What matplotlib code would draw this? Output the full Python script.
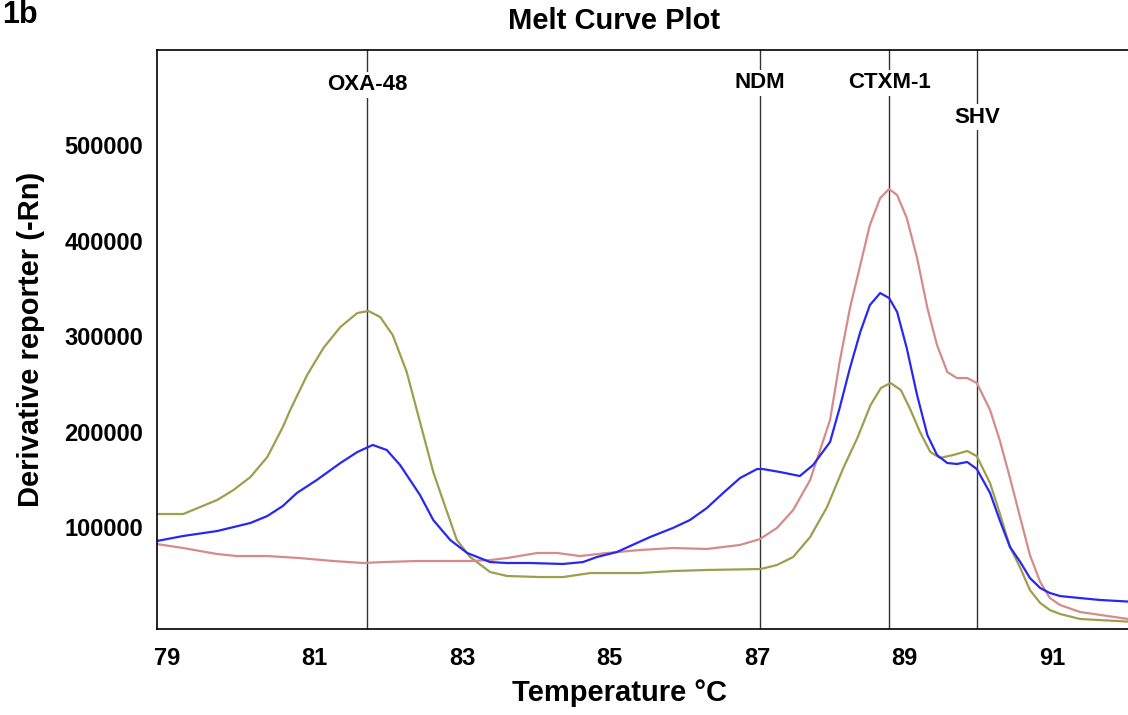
import numpy as np
import matplotlib
matplotlib.use('Agg')
import matplotlib.pyplot as plt

plt.rcParams['font.family'] = ['Liberation Sans', 'DejaVu Sans']
plt.rcParams['font.weight'] = 'bold'

# Derivative melt curves (temperature in C, -Rn)
olive_temp = [78.86, 79.22, 79.68, 79.90, 80.13, 80.36, 80.57, 80.67, 80.90, 81.12,
              81.35, 81.58, 81.73, 81.89, 82.06, 82.25, 82.43, 82.61, 82.74, 82.93,
              83.11, 83.38, 83.61, 84.06, 84.37, 84.74, 85.41, 85.86, 86.32, 87.05,
              87.27, 87.49, 87.72, 87.95, 88.17, 88.36, 88.54, 88.68, 88.81, 88.95,
              89.07, 89.21, 89.35, 89.48, 89.66, 89.85, 89.98, 90.16, 90.29, 90.43,
              90.57, 90.70, 90.84, 90.97, 91.11, 91.38, 92.13]
olive_val = [113600, 113600, 128300, 138700, 152300, 173300, 204700, 222500, 259200, 287400,
             309400, 324100, 326200, 319900, 301000, 262300, 209900, 157600, 128300, 86400,
             68600, 52900, 48700, 47600, 47600, 51800, 51800, 53900, 55000, 56000,
             60200, 68600, 89500, 121000, 161800, 193200, 227800, 245600, 250800, 243400,
             224600, 199400, 178500, 172300, 175400, 179600, 174200, 145900, 114700, 79100,
             57100, 34000, 20400, 13100, 8900, 3700, 500]

pink_temp = [78.86, 79.22, 79.68, 79.95, 80.36, 80.80, 81.25, 81.66, 81.93, 82.39,
             83.11, 83.38, 83.61, 84.02, 84.29, 84.60, 84.97, 85.41, 85.86, 86.32,
             86.77, 87.04, 87.27, 87.49, 87.72, 87.99, 88.12, 88.26, 88.40, 88.53,
             88.67, 88.79, 88.90, 89.03, 89.17, 89.31, 89.44, 89.58, 89.71, 89.85,
             89.98, 90.16, 90.29, 90.43, 90.57, 90.70, 90.84, 90.97, 91.11, 91.38,
             92.03, 92.13]
pink_val = [82200, 78000, 71700, 69600, 69600, 67500, 64400, 62300, 63300, 64400,
            64400, 65400, 67500, 72800, 72800, 69600, 72800, 75900, 78000, 77000,
            81200, 87400, 99000, 117800, 149200, 212000, 272800, 329300, 374300, 416200,
            444400, 453900, 447600, 423600, 381700, 329300, 290600, 262300, 256000, 256000,
            250800, 222500, 191100, 151300, 109400, 70700, 42400, 25700, 18300, 11000,
            3700, 3700]

blue_temp = [78.86, 79.22, 79.68, 80.13, 80.36, 80.57, 80.76, 81.03, 81.35, 81.58,
             81.73, 81.79, 81.98, 82.16, 82.34, 82.43, 82.61, 82.84, 83.07, 83.38,
             83.61, 83.92, 84.37, 84.64, 84.83, 85.10, 85.28, 85.55, 85.86, 86.09,
             86.32, 86.54, 86.77, 87.00, 87.08, 87.31, 87.58, 87.76, 87.99, 88.12,
             88.26, 88.40, 88.53, 88.67, 88.79, 88.90, 89.03, 89.17, 89.31, 89.44,
             89.58, 89.71, 89.85, 89.98, 90.16, 90.29, 90.43, 90.57, 90.70, 90.84,
             90.97, 91.11, 91.38, 91.65, 92.13]
blue_val = [85300, 90600, 95800, 104200, 111500, 122000, 135600, 149200, 167000, 178500,
            183800, 185900, 180600, 164900, 144000, 133500, 107300, 86400, 72800, 63300,
            62300, 62300, 61300, 63300, 68600, 73800, 80100, 89500, 99000, 107300,
            119900, 135600, 151300, 160700, 160700, 157600, 153400, 164900, 189000, 224600,
            266500, 304200, 332400, 345000, 339800, 325100, 287400, 238200, 196300, 175400,
            167000, 166000, 168100, 160700, 135600, 107300, 79100, 63300, 46600, 36100,
            30900, 27700, 25600, 23600, 21500]

# Melt temperature markers
marker_names = ['OXA-48', 'NDM', 'CTXM-1', 'SHV']
marker_temps = [81.71, 87.04, 88.79, 89.98]
marker_label_y = [563000, 565000, 565000, 529000]

x_ticks = [79, 81, 83, 85, 87, 89, 91]
y_ticks = [100000, 200000, 300000, 400000, 500000]

fig = plt.figure(figsize=(11.28, 7.15), dpi=100)
ax = fig.add_axes([157 / 1128, 86 / 715, (1135 - 157) / 1128, (629 - 50) / 715])

line_kw = dict(lw=1.6, solid_joinstyle='round', solid_capstyle='round')
ax.plot(olive_temp, olive_val, color='#9e9e4e', **line_kw)
ax.plot(pink_temp, pink_val, color='#d68b8b', **line_kw)
ax.plot(blue_temp, blue_val, color='#2828f0', **line_kw)

for name, t, ly in zip(marker_names, marker_temps, marker_label_y):
    ax.axvline(t, color='#333333', lw=1.0, zorder=1)
    ax.text(t, ly, name, ha='center', va='center', fontsize=16, fontweight='bold',
            bbox=dict(facecolor='white', edgecolor='none', pad=2), zorder=3)

ax.set_xlim(78.864, 92.125)
ax.set_ylim(-6800, 599500)
ax.set_xticks(x_ticks)
ax.set_yticks(y_ticks)
ax.set_xticklabels([str(v) for v in x_ticks], fontsize=17, fontweight='bold')
ax.set_yticklabels([str(v) for v in y_ticks], fontsize=17, fontweight='bold')
ax.tick_params(length=0, pad=10)
ax.tick_params(axis='x', pad=13)

for side in ['left', 'top', 'bottom']:
    ax.spines[side].set_linewidth(1.2)
ax.spines['right'].set_visible(False)

ax.set_ylabel('Derivative reporter (-Rn)', fontsize=21, fontweight='bold', labelpad=14)
fig.text(614 / 1128, 1 - 21 / 715, 'Melt Curve Plot', ha='center', va='center',
         fontsize=21, fontweight='bold')
fig.text(620 / 1128, 1 - 693 / 715, 'Temperature °C', ha='center', va='center',
         fontsize=21, fontweight='bold')
fig.text(2 / 1128, 1.0, '1b', ha='left', va='top', fontsize=22, fontweight='bold')

fig.savefig('out.png', dpi=100)
